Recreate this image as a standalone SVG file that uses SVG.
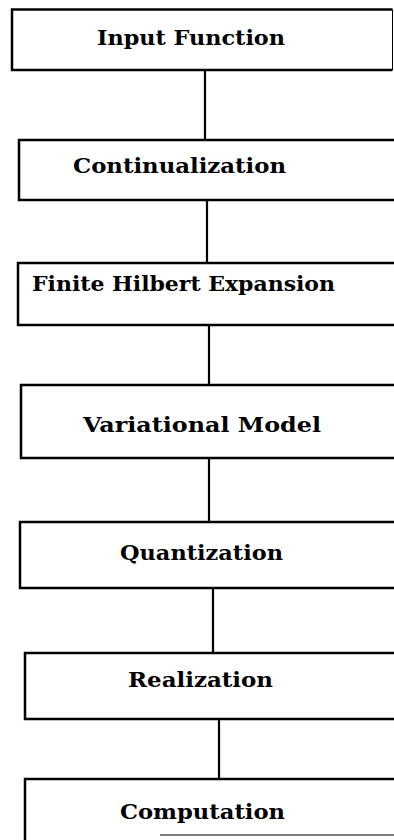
<svg xmlns="http://www.w3.org/2000/svg" width="394" height="840" viewBox="0 0 394 840">
<style>
.box{fill:#fff;stroke:#000;stroke-width:2.5}
.edge{fill:none;stroke:#000;stroke-width:2.5}
.thin{fill:none;stroke:#000;stroke-width:1}
.conn{stroke:#000;stroke-width:2.2;fill:none}
.lbl{font-family:"DejaVu Serif","Liberation Serif",serif;font-size:20.5px;font-weight:bold;fill:#000;text-anchor:middle}
</style>
<rect width="394" height="840" fill="#fff"/>
<g id="connectors">
<line class="conn" x1="205" y1="70" x2="205" y2="140"/>
<line class="conn" x1="207" y1="200" x2="207" y2="263"/>
<line class="conn" x1="209" y1="325" x2="209" y2="385"/>
<line class="conn" x1="209" y1="458" x2="209" y2="522"/>
<line class="conn" x1="213" y1="588" x2="213" y2="653"/>
<line class="conn" x1="219" y1="719" x2="219" y2="779"/>
</g>
<g id="input-function">
<path class="edge" d="M392.5 9.5 H12 V70 H392.5"/>
<line class="thin" x1="392.5" y1="9.5" x2="392.5" y2="70"/>
<text class="lbl" x="191" y="45" textLength="188" lengthAdjust="spacingAndGlyphs">Input Function</text>
</g>
<g id="continualization">
<path class="edge" d="M400 140 H19 V200 H400"/>
<text class="lbl" x="179.5" y="173" textLength="213" lengthAdjust="spacingAndGlyphs">Continualization</text>
</g>
<g id="finite-hilbert-expansion">
<path class="edge" d="M400 263 H18 V325 H400"/>
<text class="lbl" x="183.5" y="291" textLength="303" lengthAdjust="spacingAndGlyphs">Finite Hilbert Expansion</text>
</g>
<g id="variational-model">
<path class="edge" d="M400 385 H21 V458 H400"/>
<text class="lbl" x="202" y="432" textLength="238" lengthAdjust="spacingAndGlyphs">Variational Model</text>
</g>
<g id="quantization">
<path class="edge" d="M400 522 H20 V588 H400"/>
<text class="lbl" x="201.5" y="560" textLength="163" lengthAdjust="spacingAndGlyphs">Quantization</text>
</g>
<g id="realization">
<path class="edge" d="M400 653 H25 V719 H400"/>
<text class="lbl" x="200.5" y="687" textLength="145" lengthAdjust="spacingAndGlyphs">Realization</text>
</g>
<g id="computation">
<path class="edge" d="M400 779 H25 V840"/>
<line class="thin" x1="160" y1="835" x2="394" y2="835" stroke-width="1.5"/>
<text class="lbl" x="202.5" y="819" textLength="165" lengthAdjust="spacingAndGlyphs">Computation</text>
</g>
</svg>
